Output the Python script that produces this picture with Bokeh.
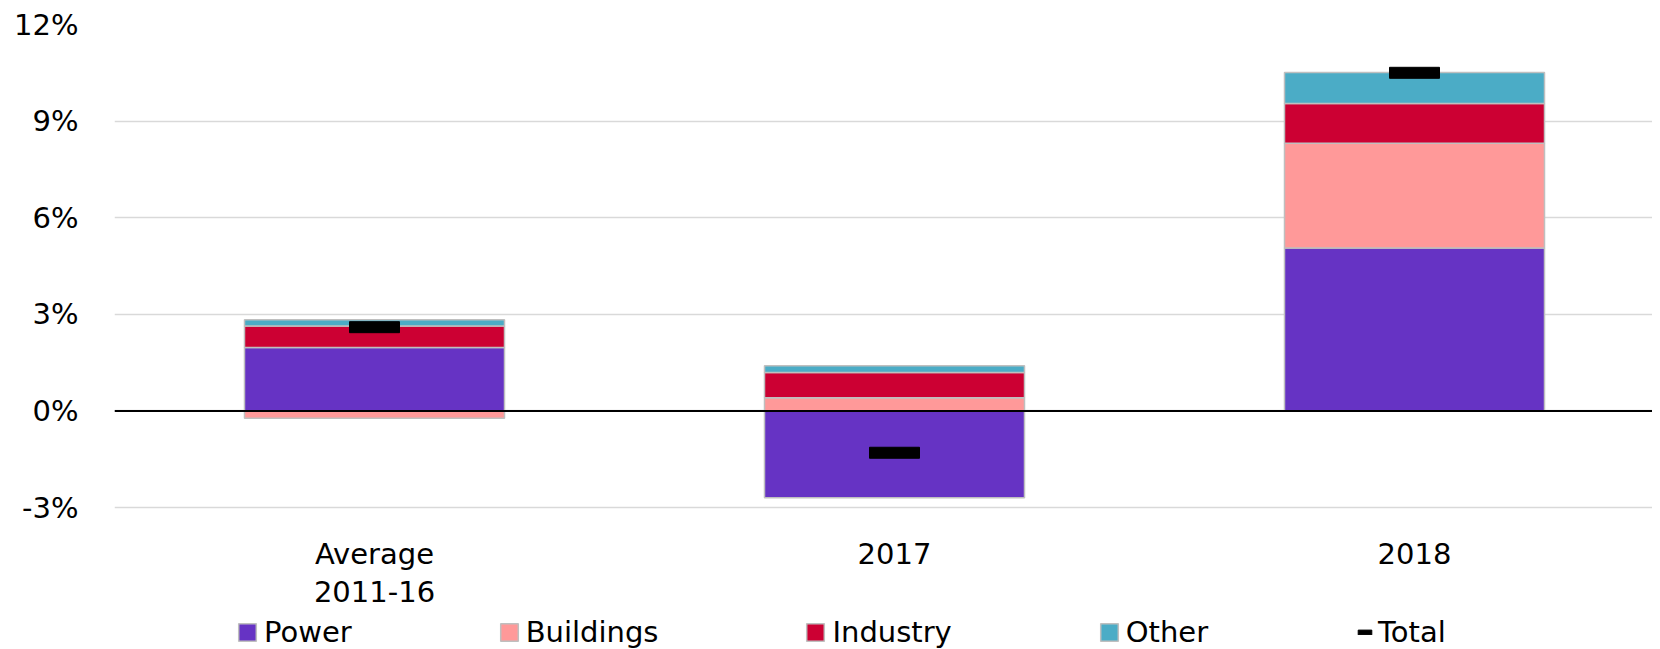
from bokeh.plotting import figure
from bokeh.models import Range1d, Span, Legend, LegendItem, PrintfTickFormatter, FixedTicker
from bokeh.core.properties import value
from bokeh.embed import file_html
from bokeh.resources import INLINE

# ---- data ----
categories = ["Average\n2011-16", "2017", "2018"]
power = [1.97, -2.70, 5.06]
buildings = [-0.23, 0.41, 3.25]
industry = [0.67, 0.78, 1.24]
other = [0.19, 0.21, 0.96]
total = [2.6, -1.3, 10.5]
series_names = ["Power", "Buildings", "Industry", "Other"]
y_ticks = [-3, 0, 3, 6, 9, 12]

# ---- style / layout ----
colors = ["#6633C4", "#FF9999", "#CC0033", "#4BACC6"]
FONT = "DejaVu Sans"
FS = "29px"
W, H = 1652, 649
LEFT, TOP = 114, 24
PX_PER_CAT = 520
PX_PER_PCT = 483 / 15
frame_w = W - LEFT
frame_h = H - TOP

n = len(categories)
xs = list(range(n))

p = figure(width=W, height=H, output_backend="svg", toolbar_location=None,
           x_range=Range1d(-0.5, -0.5 + frame_w / PX_PER_CAT),
           y_range=Range1d(y_ticks[-1] - frame_h / PX_PER_PCT, y_ticks[-1]),
           min_border_left=LEFT, min_border_right=0, min_border_top=TOP, min_border_bottom=0)
p.outline_line_color = None
p.background_fill_color = "white"
p.border_fill_color = "white"

pos = [0.0] * n
neg = [0.0] * n
bar_renderers = []
for name, vals, col in zip(series_names, [power, buildings, industry, other], colors):
    bottoms, tops = [], []
    for i, v in enumerate(vals):
        if v >= 0:
            b = pos[i]; t = b + v; pos[i] = t
        else:
            b = neg[i]; t = b + v; neg[i] = t
        bottoms.append(b); tops.append(t)
    r = p.vbar(x=xs, bottom=bottoms, top=tops, width=0.5, fill_color=col,
               line_color="#BFBFBF", line_width=1.5)
    bar_renderers.append((name, r))

zero = Span(location=0, dimension="width", line_color="black", line_width=2)
p.add_layout(zero)

tot_r = p.rect(x=xs, y=total, width=50, height=11, width_units="screen", height_units="screen",
               fill_color="black", line_color="black")

# category labels under the lowest gridline (drawn line by line)
first_lines = [c.split("\n")[0] for c in categories]
second_lines = [c.split("\n")[1] if "\n" in c else "" for c in categories]
for lines, off in [(first_lines, 46), (second_lines, 84)]:
    p.text(x=xs, y=[y_ticks[0]] * n, text=lines, y_offset=off,
           text_align="center", text_baseline="middle",
           text_font=value(FONT), text_font_size=FS, text_color="black")

# axes
p.xaxis.visible = False
p.yaxis.ticker = FixedTicker(ticks=y_ticks)
p.yaxis.formatter = PrintfTickFormatter(format="%d%%")
p.yaxis.axis_line_color = None
p.yaxis.major_tick_line_color = None
p.yaxis.minor_tick_line_color = None
p.yaxis.major_tick_out = 0
p.yaxis.major_label_standoff = 36
p.yaxis.major_label_text_font = FONT
p.yaxis.major_label_text_font_size = FS
p.yaxis.major_label_text_color = "black"

p.xgrid.grid_line_color = None
p.ygrid.grid_line_color = "#D9D9D9"
p.ygrid.grid_line_width = 1.5

# legends
leg = Legend(items=[LegendItem(label=nm, renderers=[r]) for nm, r in bar_renderers],
             orientation="horizontal", location=(122, 0),
             glyph_width=22, glyph_height=22, label_standoff=6, spacing=146,
             padding=0, margin=0, border_line_color=None, background_fill_alpha=0,
             label_text_font=FONT, label_text_font_size=FS, label_text_color="black")
p.add_layout(leg, "center")

leg2 = Legend(items=[LegendItem(label="Total", renderers=[tot_r])],
              orientation="horizontal", location=(1242, 0),
              glyph_width=17, glyph_height=6, label_standoff=5,
              padding=0, margin=0, border_line_color=None, background_fill_alpha=0,
              label_text_font=FONT, label_text_font_size=FS, label_text_color="black")
p.add_layout(leg2, "center")

open("out.html", "w").write(file_html(p, INLINE))
